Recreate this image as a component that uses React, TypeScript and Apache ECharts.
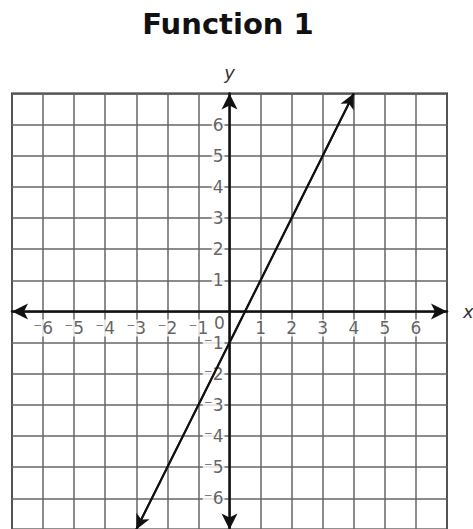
import React, { useEffect, useRef } from "react";
import * as echarts from "echarts";

const titleText = "Function 1";
const axisMin = -7;
const axisMax = 7;
const tickStep = 1;
const xTickValues = [-6, -5, -4, -3, -2, -1, 1, 2, 3, 4, 5, 6];
const yTickValues = [-6, -5, -4, -3, -2, -1, 1, 2, 3, 4, 5, 6];
// line endpoints (arrow tips)
const lineX = [-3, 4];
const lineY = [-7, 7];
const originLabel = "0";

const FONT = "DejaVu Sans, Verdana, sans-serif";

const fmt = (v: number) => (v < 0 ? "\u207B" + -v : String(v));

export default function App() {
  const ref = useRef<HTMLDivElement>(null);
  useEffect(() => {
    if (!ref.current) return;
    const chart = echarts.init(ref.current, undefined, { renderer: "svg" });
    const gridLineAxis = {
      type: "value",
      min: axisMin,
      max: axisMax,
      interval: tickStep,
      z: 0,
      axisLine: { show: false, onZero: false },
      axisTick: { show: false },
      axisLabel: { show: false },
      splitLine: { show: true, lineStyle: { color: "#666", width: 1.5 } },
    };
    const axisLineStyle = {
      show: true,
      onZero: true,
      onZeroAxisIndex: 1,
      symbol: ["arrow", "arrow"],
      symbolSize: [12, 16],
      lineStyle: { color: "#111", width: 2.5 },
    };
    const labelText = {
      fontSize: 17,
      fontFamily: FONT,
      color: "#3a3a3a",
      backgroundColor: "#fff",
      padding: [0, 1],
    };
    const pts = lineX.map((x, i) => [x, lineY[i]]);
    chart.setOption({
      animation: false,
      graphic: [
        {
          type: "text",
          x: 228,
          y: 24,
          style: {
            text: titleText,
            textAlign: "center",
            textVerticalAlign: "middle",
            font: "bold 29px " + FONT,
            fill: "#111",
          },
        },
      ],
      grid: {
        left: 12,
        top: 93.5,
        width: 435,
        height: 436,
        show: true,
        borderColor: "#222",
        borderWidth: 2,
        backgroundColor: "transparent",
        containLabel: false,
        outerBoundsMode: "none",
      },
      xAxis: [
        { ...gridLineAxis, position: "bottom" },
        {
          type: "value",
          min: axisMin,
          max: axisMax,
          interval: tickStep,
          position: "bottom",
          z: 2,
          name: "x",
          nameLocation: "end",
          nameGap: 16,
          nameTextStyle: { fontSize: 18, fontStyle: "italic", fontFamily: FONT, color: "#333" },
          axisLine: axisLineStyle,
          axisTick: { show: false },
          axisLabel: { show: false },
          splitLine: { show: false },
        },
      ],
      yAxis: [
        { ...gridLineAxis, position: "left" },
        {
          type: "value",
          min: axisMin,
          max: axisMax,
          interval: tickStep,
          position: "left",
          z: 2,
          name: "y",
          nameLocation: "end",
          nameGap: 12,
          nameTextStyle: { fontSize: 18, fontStyle: "italic", fontFamily: FONT, color: "#333", align: "center" },
          axisLine: axisLineStyle,
          axisTick: { show: false },
          axisLabel: { show: false },
          splitLine: { show: false },
        },
      ],
      series: [
        {
          type: "scatter",
          xAxisIndex: 0,
          yAxisIndex: 0,
          z: 3,
          silent: true,
          symbolSize: 0,
          data: xTickValues.map((v) => [v, 0]),
          label: {
            show: true,
            position: "bottom",
            distance: 8,
            formatter: (p: any) => fmt(p.value[0]),
            ...labelText,
          },
        },
        {
          type: "scatter",
          xAxisIndex: 0,
          yAxisIndex: 0,
          z: 3,
          silent: true,
          symbolSize: 0,
          data: yTickValues.map((v) => [0, v]),
          label: {
            show: true,
            position: "left",
            distance: 5,
            formatter: (p: any) => fmt(p.value[1]),
            ...labelText,
          },
        },
        {
          type: "scatter",
          xAxisIndex: 0,
          yAxisIndex: 0,
          z: 3,
          silent: true,
          data: [[0, 0]],
          symbolSize: 0,
          label: {
            show: true,
            position: "inside",
            offset: [-10, 11],
            formatter: () => originLabel,
            ...labelText,
          },
        },
        {
          type: "line",
          xAxisIndex: 0,
          yAxisIndex: 0,
          z: 5,
          data: pts,
          symbol: "none",
          lineStyle: { color: "#111", width: 2 },
          markLine: {
            silent: true,
            symbol: ["arrow", "arrow"],
            symbolSize: [11, 15],
            label: { show: false },
            lineStyle: { color: "#111", width: 2, type: "solid" },
            data: [[{ coord: pts[0] }, { coord: pts[1] }]],
          },
        },
      ],
    });
    return () => chart.dispose();
  }, []);
  return (
    <div
      ref={ref}
      style={{ position: "fixed", left: 0, top: 0, width: 473, height: 529, background: "#fff" }}
    />
  );
}
